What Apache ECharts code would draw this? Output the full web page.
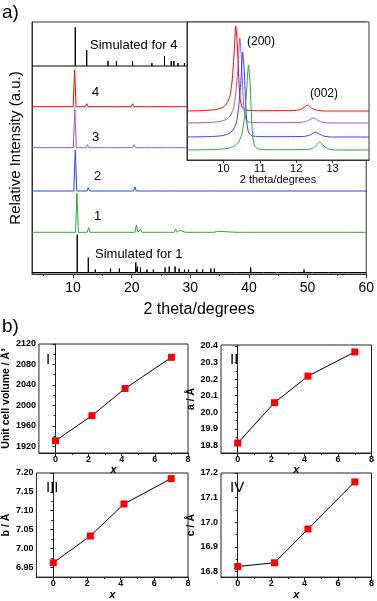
<!DOCTYPE html>
<html><head><meta charset="utf-8">
<script src="https://cdn.jsdelivr.net/npm/echarts@6/dist/echarts.min.js"></script>
<style>html,body{margin:0;padding:0;background:#fff}#c{width:377px;height:601px}</style>
</head><body><div id="c"></div>
<script>
// ---------- DATA ----------
// Panel a) main pattern: peak lists [2theta, relative height]
const sim4Peaks = [[10.38,39],[12.33,16],[13.6,1],[15.96,5],[17.4,5],[20.15,5],[21.9,2],[23.45,3],[25.6,10],[26.75,5],[27.2,5],[27.9,3],[29.0,3],[30.2,3],[31.5,3],[33.0,4],[34.5,3],[38.0,2],[40.2,4],[44.5,2],[49.0,2]];
const exp4Peaks = [[10.27,37],[12.33,3],[15.9,1],[17.4,2],[20.15,3],[22.0,1],[23.5,1],[25.6,2],[27.0,2],[28.4,1]];
const exp3Peaks = [[10.30,39],[12.45,3],[16.0,1],[17.6,2],[20.4,3],[22.1,1],[23.6,1],[25.9,1.5],[27.1,2],[28.5,1]];
const exp2Peaks = [[10.38,41],[12.6,3.3],[16.2,1],[17.6,1.5],[20.55,4],[22.3,1],[24.0,1],[26.1,1.5],[27.2,2],[28.5,1],[33.7,1.5],[38.5,0.8],[40.8,0.6]];
const exp1Peaks = [[10.66,39],[12.66,4.7],[14.0,1],[16.4,1],[17.9,2],[20.8,7.3],[21.5,3],[22.6,2],[24.0,1],[26.1,2],[27.5,3],[28.2,2],[29.4,1],[31.0,1],[33.8,2],[34.6,1],[38.2,1.2],[40.5,1],[49.5,0.5]];
const sim1Peaks = [[10.71,37.7],[12.6,15],[13.8,3],[16.4,4],[17.9,4],[20.7,10],[21.0,6],[21.5,5],[22.6,3],[23.7,3],[25.7,5],[26.4,6],[27.4,6],[28.1,4],[29.0,3],[29.7,3],[31.1,3],[32.1,3],[33.5,4],[34.1,4],[37.7,2],[38.3,2],[40.3,5],[42.5,2],[44.7,2],[46.9,2],[48.3,2],[49.4,3],[50.8,2],[53.6,2],[57.0,1.5]];
const mainLabels = ['Simulated for 4','4','3','2','1','Simulated for 1'];
const mainTicks = [10,20,30,40,50,60];

// Inset profiles [2theta, intensity above own baseline]
const insetRed = [[9.0,0],[9.5,0.5],[9.8,1.5],[10.0,4],[10.1,8],[10.18,15],[10.24,30],[10.29,55],[10.34,85],[10.38,68],[10.42,35],[10.46,12],[10.51,4],[10.6,1],[11.0,0.3],[12.0,0.5],[12.15,2],[12.32,6],[12.42,3],[12.55,1],[12.8,0],[14.0,0]];
const insetPurple = [[9.0,0],[9.6,0.5],[9.9,1.5],[10.1,4],[10.2,8],[10.28,15],[10.34,30],[10.4,55],[10.45,85],[10.49,68],[10.53,35],[10.57,12],[10.62,4],[10.7,1],[11.1,0.3],[12.1,0.5],[12.3,2],[12.48,5],[12.58,3],[12.7,1],[12.9,0],[14.0,0]];
const insetBlue = [[9.0,0],[9.7,0.5],[10.0,1.5],[10.18,4],[10.28,8],[10.36,15],[10.42,30],[10.48,55],[10.53,85],[10.57,68],[10.61,35],[10.65,12],[10.7,4],[10.8,1],[11.2,0.3],[12.2,0.5],[12.38,2],[12.53,5],[12.63,3],[12.75,1],[12.95,0],[14.0,0]];
const insetGreen = [[9.0,0],[9.8,0.5],[10.1,1.5],[10.3,4],[10.42,8],[10.5,15],[10.57,30],[10.63,55],[10.69,85],[10.73,68],[10.77,35],[10.81,12],[10.86,4],[10.95,1],[11.3,0.3],[12.3,0.5],[12.48,2],[12.65,8],[12.76,4],[12.88,1],[13.1,0],[14.0,0]];
const insetTicks = [10,11,12,13];

// Panel b) lattice parameters
const xVals = [0, 2.2, 4.2, 7.0];
const cellVolume = [1931, 1980, 2033, 2094];
const aAxis = [19.814, 20.058, 20.218, 20.364];
const bAxis = [6.962, 7.033, 7.118, 7.185];
const cAxis = [16.821, 16.836, 16.973, 17.164];
const xTicksB = [0,2,4,6,8];
const volTicks = [1920,1960,2000,2040,2080,2120];
const aTicks = [19.8,19.9,20.0,20.1,20.2,20.3,20.4];
const bTicks = [6.95,7.00,7.05,7.10,7.15,7.20];
const cTicks = [16.8,16.9,17.0,17.1,17.2];

// ---------- BUILD ----------
const FONT = '"Liberation Sans", Arial, sans-serif';
const C = {black:'#000', red:'#ff0000', purple:'#a050f0', blue:'#2a45f5', green:'#2ea82e'};

function peaksToLine(peaks, base, hw, x0, x1) {
  const pts = [[x0, base]];
  peaks.forEach(([p,h]) => { pts.push([p-hw, base],[p, base+h],[p+hw, base]); });
  pts.push([x1, base]);
  return pts;
}
function offsetLine(arr, base){ return arr.map(([x,y]) => [x, y+base]); }

const chart = echarts.init(document.getElementById('c'), null, {renderer:'canvas'});

const mainTraces = [
  {peaks: sim4Peaks, base: 208, hw: 0, color: C.black},
  {peaks: exp4Peaks, base: 167.3, hw: 0.25, color: C.red},
  {peaks: exp3Peaks, base: 126.3, hw: 0.25, color: C.purple},
  {peaks: exp2Peaks, base: 83, hw: 0.25, color: C.blue},
  {peaks: exp1Peaks, base: 41.7, hw: 0.25, color: C.green},
  {peaks: sim1Peaks, base: 1.5, hw: 0, color: C.black}
];
const insetTraces = [
  {d: insetRed, base: 49, color: C.red},
  {d: insetPurple, base: 37, color: C.purple},
  {d: insetBlue, base: 23, color: C.blue},
  {d: insetGreen, base: 10, color: C.green}
];

const grids = [
  {left:28, top:22, width:341, height:252, show:true, borderColor:'#333', borderWidth:1, backgroundColor:'transparent'},
  {left:187, top:22, width:182, height:138, show:true, borderColor:'#333', borderWidth:1, backgroundColor:'#fff', z:3},
  {left:36, top:344, width:152, height:109, show:true, borderColor:'#222', borderWidth:1},
  {left:221, top:345, width:152, height:108, show:true, borderColor:'#222', borderWidth:1},
  {left:36, top:473, width:152, height:109, show:true, borderColor:'#222', borderWidth:1},
  {left:221, top:473, width:152, height:109, show:true, borderColor:'#222', borderWidth:1}
];

const lblB = {fontFamily:FONT, fontWeight:'bold', fontSize:9, color:'#000'};
function bX(gi){
  return [{
    gridIndex:gi, type:'value', min:-1, max:8,
    axisLine:{show:true, lineStyle:{color:'#222', width:1}},
    axisTick:{show:true, length:3, customValues:xTicksB, lineStyle:{color:'#222'}},
    axisLabel:Object.assign({customValues:xTicksB, margin:2}, lblB),
    splitLine:{show:false},
    name:'x', nameLocation:'middle', nameGap:9,
    nameTextStyle:{fontFamily:FONT, fontWeight:'bold', fontStyle:'italic', fontSize:11, color:'#000'}
  },{
    gridIndex:gi, type:'value', min:-1, max:8, position:'bottom',
    axisLine:{show:false}, axisLabel:{show:false}, splitLine:{show:false},
    axisTick:{show:true, length:2, customValues:[1,3,5,7], lineStyle:{color:'#222'}}
  }];
}
function bY(gi, mn, mx, ticks, dec, name){
  const minor = [];
  for (let i=0;i<ticks.length-1;i++) minor.push((ticks[i]+ticks[i+1])/2);
  return [{
    gridIndex:gi, type:'value', min:mn, max:mx,
    axisLine:{show:true, lineStyle:{color:'#222', width:1}},
    axisTick:{show:true, length:3, customValues:ticks, lineStyle:{color:'#222'}},
    axisLabel:Object.assign({customValues:ticks, margin:3, formatter:v=>Number(v).toFixed(dec)}, lblB),
    splitLine:{show:false},
    name:name, nameLocation:'middle', nameRotate:90, nameGap:19,
    nameTextStyle:{fontFamily:FONT, fontWeight:'bold', fontSize:10.5, color:'#000'}
  },{
    gridIndex:gi, type:'value', min:mn, max:mx, position:'left',
    axisLine:{show:false}, axisLabel:{show:false}, splitLine:{show:false},
    axisTick:{show:true, length:2, customValues:minor, lineStyle:{color:'#222'}}
  }];
}

const xAxes = [
  {gridIndex:0, type:'value', min:3, max:60,
   axisLine:{show:true, lineStyle:{color:'#333'}},
   axisTick:{show:true, length:4, customValues:mainTicks, lineStyle:{color:'#333'}},
   axisLabel:{customValues:mainTicks, margin:7, fontFamily:FONT, fontSize:14, color:'#000'},
   splitLine:{show:false},
   name:'2 theta/degrees', nameLocation:'middle', nameGap:28,
   nameTextStyle:{fontFamily:FONT, fontSize:16, color:'#000'}},
  {gridIndex:0, type:'value', min:3, max:60, position:'bottom',
   axisLine:{show:false}, axisLabel:{show:false}, splitLine:{show:false},
   axisTick:{show:true, length:2, customValues:[5,15,25,35,45,55], lineStyle:{color:'#333'}}},
  {gridIndex:1, type:'value', min:9, max:14, z:4,
   axisLine:{show:true, lineStyle:{color:'#333'}},
   axisTick:{show:true, length:3, inside:false, customValues:insetTicks, lineStyle:{color:'#333'}},
   axisLabel:{customValues:insetTicks, margin:3, fontFamily:FONT, fontSize:11, color:'#000'},
   splitLine:{show:false},
   name:'2 theta/degrees', nameLocation:'middle', nameGap:14,
   nameTextStyle:{fontFamily:FONT, fontSize:11, color:'#000'}},
  ...bX(2), ...bX(3), ...bX(4), ...bX(5)
];
const yAxes = [
  {gridIndex:0, type:'value', min:0, max:252,
   axisLine:{show:true, lineStyle:{color:'#333'}}, axisTick:{show:false}, axisLabel:{show:false}, splitLine:{show:false},
   name:'Relative Intensity (a.u.)', nameLocation:'middle', nameRotate:90, nameGap:9,
   nameTextStyle:{fontFamily:FONT, fontSize:15, color:'#000'}},
  {gridIndex:1, type:'value', min:0, max:138, z:4,
   axisLine:{show:true, lineStyle:{color:'#333'}}, axisTick:{show:false}, axisLabel:{show:false}, splitLine:{show:false}},
  ...bY(2, 1907, 2120, volTicks, 0, 'Unit cell volume / Å³'),
  ...bY(3, 19.754, 20.406, aTicks, 1, 'a / Å'),
  ...bY(4, 6.924, 7.20, bTicks, 2, 'b / Å'),
  ...bY(5, 16.778, 17.2, cTicks, 1, 'c / Å')
];
const series = [];
mainTraces.forEach(t => series.push({
  type:'line', xAxisIndex:0, yAxisIndex:0, data:peaksToLine(t.peaks, t.base, t.hw, 3, 60),
  symbol:'none', lineStyle:{color:t.color, width:1}, z:2, animation:false, silent:true
}));
insetTraces.forEach(t => series.push({
  type:'line', xAxisIndex:2, yAxisIndex:1, data:offsetLine(t.d, t.base), smooth:0.2,
  symbol:'none', lineStyle:{color:t.color, width:1}, z:5, animation:false, silent:true
}));
[[cellVolume,3,2],[aAxis,5,4],[bAxis,7,6],[cAxis,9,8]].forEach(([vals,xi,yi]) => series.push({
  type:'line', xAxisIndex:xi, yAxisIndex:yi, data:xVals.map((x,i)=>[x, vals[i]]),
  symbol:'rect', symbolSize:7, itemStyle:{color:C.red}, lineStyle:{color:'#000', width:1},
  animation:false, silent:true
}));

function txt(x, y, s, size, opt){
  return {type:'text', x:x, y:y, z:100, style:{text:s, font: size+'px '+FONT, fill:'#000', align:(opt&&opt.a)||'left', verticalAlign:'middle'}};
}
const graphic = [
  txt(2, 13, 'a)', 19),
  txt(2, 327, 'b)', 19),
  txt(90, 45, mainLabels[0], 13),
  txt(92, 92, mainLabels[1], 13),
  txt(92, 137, mainLabels[2], 13),
  txt(94, 176, mainLabels[3], 13),
  txt(94, 216, mainLabels[4], 13),
  txt(95, 254, mainLabels[5], 13),
  txt(261, 42, '(200)', 12, {a:'center'}),
  txt(324, 94, '(002)', 12, {a:'center'}),
  txt(46, 360, 'I', 15),
  txt(230, 360, 'II', 15),
  txt(46, 488, 'III', 15),
  txt(230, 488, 'IV', 15)
];

chart.setOption({
  animation:false,
  backgroundColor:'#fff',
  grid:grids, xAxis:xAxes, yAxis:yAxes, series:series, graphic:graphic
});
</script></body></html>
